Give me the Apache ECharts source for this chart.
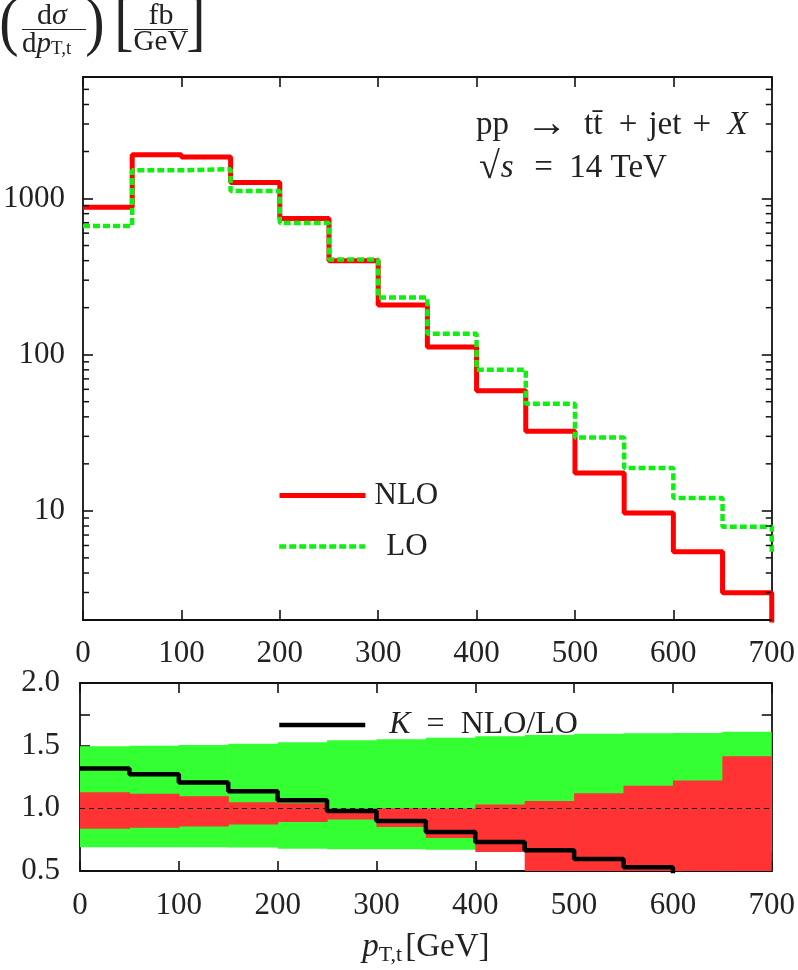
<!DOCTYPE html>
<html>
<head>
<meta charset="utf-8">
<script src="https://cdn.jsdelivr.net/npm/echarts@6/dist/echarts.min.js"></script>
<style>
  html, body { margin: 0; padding: 0; background: #fff; }
  #chart { width: 798px; height: 970px; }
</style>
</head>
<body>
<div id="chart"></div>
<script>
// ---------------- data ----------------
const binEdges = [0, 50, 100, 150, 200, 250, 300, 350, 400, 450, 500, 550, 600, 650];
const binEnd = 700;
const nloValues = [880, 1910, 1845, 1265, 745, 399, 208, 112, 58.8, 32.3, 17.5, 9.7, 5.47, 2.99];
const nloTail = 1.5;
const loValues = [668, 1517, 1540, 1118, 698, 407, 232, 136, 80, 48.5, 29.5, 18.8, 12.1, 7.9];
const loTail = 5.3;
const kValues = [1.317, 1.271, 1.207, 1.136, 1.064, 0.979, 0.899, 0.811, 0.731, 0.665, 0.595, 0.53, 0.45, 0.38];
const loBandLow  = [0.689, 0.689, 0.689, 0.687, 0.678, 0.673, 0.673, 0.670, 0.668, 0.665, 0.663, 0.660, 0.658, 0.655];
const loBandHigh = [1.495, 1.500, 1.505, 1.516, 1.527, 1.543, 1.551, 1.564, 1.575, 1.585, 1.596, 1.599, 1.601, 1.612];
const nloBandLow  = [0.838, 0.846, 0.856, 0.872, 0.891, 0.910, 0.851, 0.763, 0.651, 0.45, 0.40, 0.35, 0.30, 0.25];
const nloBandHigh = [1.128, 1.117, 1.096, 1.048, 1.040, 0.990, 1.000, 0.998, 1.030, 1.058, 1.120, 1.181, 1.223, 1.415];
const logMinorTicks = [2,3,4,5,6,7,8,9, 20,30,40,50,60,70,80,90, 200,300,400,500,600,700,800,900, 2000,3000,4000,5000];

// ---------------- helpers ----------------
const FONT = "'Liberation Serif', 'DejaVu Serif', serif";
const TXT = '#222';
const stepData = (vals, tail) => binEdges.map((x, i) => [x, vals[i]]).concat([[binEnd, tail]]);
const bandData = (lo, hi) => binEdges.map((x, i) => [x, i + 1 < binEdges.length ? binEdges[i + 1] : binEnd, lo[i], hi[i]]);

const axisLineStyle = { show: true, onZero: false, lineStyle: { color: '#111', width: 1.8 } };
const tickStyle = { show: true, inside: true, length: 10, lineStyle: { color: '#111', width: 1.6 } };
const labelFont = { fontFamily: FONT, fontSize: 31, color: TXT };
const hiddenSym = { color: 'rgba(0,0,0,0)', borderColor: 'rgba(0,0,0,0)', borderWidth: 0, opacity: 0 };

function bandRender(color) {
  return function (params, api) {
    const p0 = api.coord([api.value(0), api.value(3)]);
    const p1 = api.coord([api.value(1), api.value(2)]);
    const rect = echarts.graphic.clipRectByRect(
      { x: p0[0], y: p0[1], width: p1[0] - p0[0] + 0.6, height: p1[1] - p0[1] },
      { x: params.coordSys.x, y: params.coordSys.y, width: params.coordSys.width, height: params.coordSys.height }
    );
    if (!rect) return null;
    return { type: 'rect', shape: rect, style: { fill: color } };
  };
}

const chart = echarts.init(document.getElementById('chart'), null, { renderer: 'canvas' });

const option = {
  animation: false,
  backgroundColor: '#fff',
  grid: [
    { left: 80, right: 22, top: 77, height: 543 },
    { left: 80, right: 22, top: 683, height: 188 }
  ],
  xAxis: [
    { gridIndex: 0, type: 'value', min: 0, max: 700, interval: 100, position: 'bottom',
      axisLine: axisLineStyle, axisTick: tickStyle, splitLine: { show: false },
      axisLabel: Object.assign({ margin: 18, showMinLabel: true, showMaxLabel: true, hideOverlap: false }, labelFont) },
    { gridIndex: 0, type: 'value', min: 0, max: 700, interval: 100, position: 'top',
      axisLine: axisLineStyle, axisTick: tickStyle, splitLine: { show: false }, axisLabel: { show: false } },
    { gridIndex: 1, type: 'value', min: 0, max: 700, interval: 100, position: 'bottom',
      axisLine: axisLineStyle, axisTick: tickStyle, splitLine: { show: false },
      axisLabel: Object.assign({ margin: 19, showMinLabel: true, showMaxLabel: true, hideOverlap: false }, labelFont),
      name: '{i|p}{s|T,t}{n|[GeV]}', nameLocation: 'middle', nameGap: 57,
      nameTextStyle: { fontFamily: FONT, color: TXT,
        rich: {
          i: { fontFamily: FONT, fontSize: 33, fontStyle: 'italic', lineHeight: 38, color: TXT },
          s: { fontFamily: FONT, fontSize: 22, lineHeight: 24, verticalAlign: 'bottom', color: TXT, padding: [0, 3, 0, 0] },
          n: { fontFamily: FONT, fontSize: 33, lineHeight: 38, color: TXT }
        } } },
    { gridIndex: 1, type: 'value', min: 0, max: 700, interval: 100, position: 'top',
      axisLine: axisLineStyle, axisTick: tickStyle, splitLine: { show: false }, axisLabel: { show: false } }
  ],
  yAxis: [
    { gridIndex: 0, type: 'log', logBase: 10, min: 2, max: 6000, position: 'left',
      axisLine: axisLineStyle, axisTick: tickStyle, splitLine: { show: false }, minorTick: { show: false },
      axisLabel: Object.assign({ margin: 18, formatter: function (v) {
        const l = Math.log10(v); return Math.abs(l - Math.round(l)) < 1e-6 ? String(Math.round(v)) : '';
      } }, labelFont) },
    { gridIndex: 0, type: 'log', logBase: 10, min: 2, max: 6000, position: 'right',
      axisLine: axisLineStyle, axisTick: tickStyle, splitLine: { show: false }, axisLabel: { show: false } },
    { gridIndex: 1, type: 'value', min: 0.5, max: 2.0, interval: 0.25, position: 'left',
      axisLine: axisLineStyle, axisTick: tickStyle, splitLine: { show: false },
      axisLabel: Object.assign({ margin: 20, showMinLabel: true, showMaxLabel: true, formatter: function (v) {
        return Math.abs(v * 2 - Math.round(v * 2)) < 1e-6 ? v.toFixed(1) : '';
      } }, labelFont) },
    { gridIndex: 1, type: 'value', min: 0.5, max: 2.0, interval: 0.25, position: 'right',
      axisLine: axisLineStyle, axisTick: tickStyle, splitLine: { show: false }, axisLabel: { show: false } }
  ],
  legend: [
    { data: ['NLO'], left: 272, top: 475, orient: 'vertical', itemWidth: 86, itemHeight: 30, selectedMode: false,
      itemStyle: hiddenSym, lineStyle: { width: 5 },
      textStyle: { fontFamily: FONT, fontSize: 31, color: TXT, padding: [0, 0, 0, 4] } },
    { data: ['LO'], left: 272, top: 526, orient: 'vertical', itemWidth: 86, itemHeight: 30, selectedMode: false,
      itemStyle: hiddenSym, lineStyle: { width: 4.5 },
      textStyle: { fontFamily: FONT, fontSize: 31, color: TXT, padding: [0, 0, 0, 16] } },
    { data: ['K = NLO/LO'], left: 272, top: 704, orient: 'vertical', itemWidth: 86, itemHeight: 30, selectedMode: false,
      itemStyle: hiddenSym, lineStyle: { width: 4.5 },
      formatter: function () { return '{i|K}\u2002=\u2002NLO/LO'; },
      textStyle: { fontFamily: FONT, fontSize: 32, color: TXT, padding: [0, 0, 0, 19],
        rich: { i: { fontFamily: FONT, fontSize: 32, fontStyle: 'italic', color: TXT } } } }
  ],
  series: [
    { name: 'NLO', type: 'line', xAxisIndex: 0, yAxisIndex: 0, step: 'end', symbol: 'none',
      data: stepData(nloValues, nloTail), lineStyle: { color: '#ff0000', width: 5 }, itemStyle: { color: '#ff0000' }, z: 3 },
    { name: 'LO', type: 'line', xAxisIndex: 0, yAxisIndex: 0, step: 'end', symbol: 'none',
      data: stepData(loValues, loTail), lineStyle: { color: '#11ee11', width: 4.5, type: [7, 3] }, itemStyle: { color: '#11ee11' }, z: 4 },
    { name: 'minorTicks', type: 'custom', xAxisIndex: 0, yAxisIndex: 0, silent: true,
      data: logMinorTicks.map(v => [v]),
      renderItem: function (params, api) {
        const pl = api.coord([0, api.value(0)]);
        const pr = api.coord([700, api.value(0)]);
        const st = { stroke: '#111', lineWidth: 1.5 };
        return { type: 'group', children: [
          { type: 'line', shape: { x1: pl[0], y1: pl[1], x2: pl[0] + 6, y2: pl[1] }, style: st },
          { type: 'line', shape: { x1: pr[0], y1: pr[1], x2: pr[0] - 6, y2: pr[1] }, style: st }
        ] };
      }, z: 5 },
    { name: 'LO band', type: 'custom', xAxisIndex: 2, yAxisIndex: 2, silent: true,
      data: bandData(loBandLow, loBandHigh), renderItem: bandRender('#33ff33'), z: 1 },
    { name: 'NLO band', type: 'custom', xAxisIndex: 2, yAxisIndex: 2, silent: true,
      data: bandData(nloBandLow, nloBandHigh), renderItem: bandRender('#ff3333'), z: 2 },
    { name: 'K = NLO/LO', type: 'line', xAxisIndex: 2, yAxisIndex: 2, step: 'end', symbol: 'none',
      data: stepData(kValues, kValues[kValues.length - 1]), lineStyle: { color: '#000', width: 4.5 }, itemStyle: { color: '#000' }, z: 4,
      markLine: { silent: true, symbol: 'none', label: { show: false },
        lineStyle: { color: '#111', width: 1, type: [5, 4] }, data: [{ yAxis: 1.0 }] } }
  ],
  graphic: [
    // process label
    { type: 'text', left: 476, top: 104, style: { text: '{n|pp\u2002}{a|→}{n|\u2002tt\u0304\u2002+\u2004jet\u2004+\u2002}{i|X}', rich: {
        n: { fontFamily: FONT, fontSize: 33, lineHeight: 40, fill: TXT },
        a: { fontFamily: FONT, fontSize: 42, lineHeight: 40, fill: TXT },
        i: { fontFamily: FONT, fontSize: 33, lineHeight: 40, fontStyle: 'italic', fill: TXT } } } },
    { type: 'text', left: 479, top: 149, style: { text: '{r|√}{i|s}{n|\u2002=\u200214\u2005TeV}', rich: {
        r: { fontFamily: FONT, fontSize: 38, lineHeight: 40, fill: TXT },
        n: { fontFamily: FONT, fontSize: 33, lineHeight: 40, fill: TXT },
        i: { fontFamily: FONT, fontSize: 33, lineHeight: 40, fontStyle: 'italic', fill: TXT, padding: [0, 4, 0, 1] } } } },
    // y-axis title (dσ/dp_T,t) [fb/GeV]
    { type: 'text', x: 9, y: 26, scaleY: 1.12, style: { text: '(', fontFamily: FONT, fontSize: 58, fill: TXT, textAlign: 'center', textVerticalAlign: 'middle' } },
    { type: 'text', x: 52, y: 16, style: { text: '{n|d}{i|σ}', textAlign: 'center', textVerticalAlign: 'middle', rich: {
        n: { fontFamily: FONT, fontSize: 30, fill: TXT }, i: { fontFamily: FONT, fontSize: 30, fontStyle: 'italic', fill: TXT } } } },
    { type: 'line', shape: { x1: 22, y1: 29.5, x2: 86, y2: 29.5 }, style: { stroke: TXT, lineWidth: 1.2 } },
    { type: 'text', x: 22, y: 44, style: { text: '{n|d}{i|p}{s|T,t}', textAlign: 'left', textVerticalAlign: 'middle', rich: {
        n: { fontFamily: FONT, fontSize: 29, lineHeight: 30, fill: TXT },
        i: { fontFamily: FONT, fontSize: 29, fontStyle: 'italic', lineHeight: 30, fill: TXT },
        s: { fontFamily: FONT, fontSize: 19, lineHeight: 18, verticalAlign: 'bottom', fill: TXT } } } },
    { type: 'text', x: 95, y: 26, scaleY: 1.12, style: { text: ')', fontFamily: FONT, fontSize: 58, fill: TXT, textAlign: 'center', textVerticalAlign: 'middle' } },
    { type: 'text', x: 124, y: 26, scaleY: 1.12, style: { text: '[', fontFamily: FONT, fontSize: 58, fill: TXT, textAlign: 'center', textVerticalAlign: 'middle' } },
    { type: 'text', x: 161, y: 16, style: { text: 'fb', fontFamily: FONT, fontSize: 30, fill: TXT, textAlign: 'center', textVerticalAlign: 'middle' } },
    { type: 'line', shape: { x1: 134, y1: 29.5, x2: 188, y2: 29.5 }, style: { stroke: TXT, lineWidth: 1.2 } },
    { type: 'text', x: 161, y: 42, style: { text: 'GeV', fontFamily: FONT, fontSize: 29, fill: TXT, textAlign: 'center', textVerticalAlign: 'middle' } },
    { type: 'text', x: 196, y: 26, scaleY: 1.12, style: { text: ']', fontFamily: FONT, fontSize: 58, fill: TXT, textAlign: 'center', textVerticalAlign: 'middle' } }
  ]
};
chart.setOption(option);
</script>
</body>
</html>
